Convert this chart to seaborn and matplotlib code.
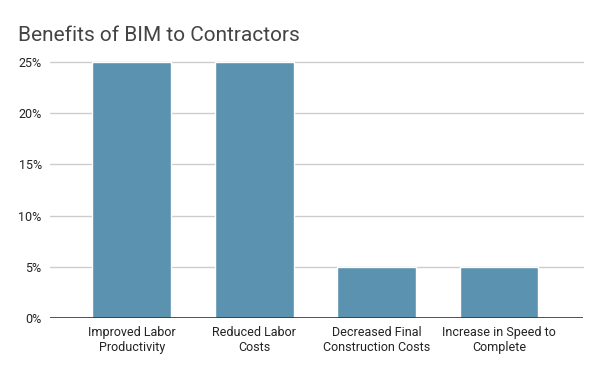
import matplotlib
matplotlib.use("Agg")
import matplotlib.pyplot as plt
import seaborn as sns
import pandas as pd

# data
categories = ["Improved Labor\nProductivity", "Reduced Labor\nCosts",
              "Decreased Final\nConstruction Costs", "Increase in Speed to\nComplete"]
values = [25, 25, 5, 5]
yticks = [0, 5, 10, 15, 20, 25]

sns.set_theme(style="white")
plt.rcParams["font.family"] = ["Roboto", "DejaVu Sans"]

df = pd.DataFrame({"benefit": categories, "pct": values})

fig = plt.figure(figsize=(6, 3.71), dpi=100)
ax = fig.add_axes([0.0833, 0.143, 0.889, 0.690])
sns.barplot(data=df, x="benefit", y="pct", color="#5a92b0", saturation=1,
            width=0.645, ax=ax, zorder=3)

ax.set_ylim(0, 25)
ax.set_xlim(-0.67, 3.69)
ax.set_yticks(yticks)
ax.set_yticklabels([f"{t}%" for t in yticks])
for t in yticks[1:]:
    ax.axhline(t, color="#cccccc", lw=1, zorder=1, clip_on=False)
ax.axhline(0, color="#333333", lw=1.2, zorder=4)

for s in ax.spines.values():
    s.set_visible(False)
ax.tick_params(axis="both", length=0, labelsize=9, colors="#222222")
ax.tick_params(axis="y", pad=6)
ax.tick_params(axis="x", pad=6)
ax.set_xlabel("")
ax.set_ylabel("")

fig.text(0.03, 0.905, "Benefits of BIM to Contractors", fontsize=15, color="#444444",
         ha="left", va="center")

fig.savefig("out.png", dpi=100)
